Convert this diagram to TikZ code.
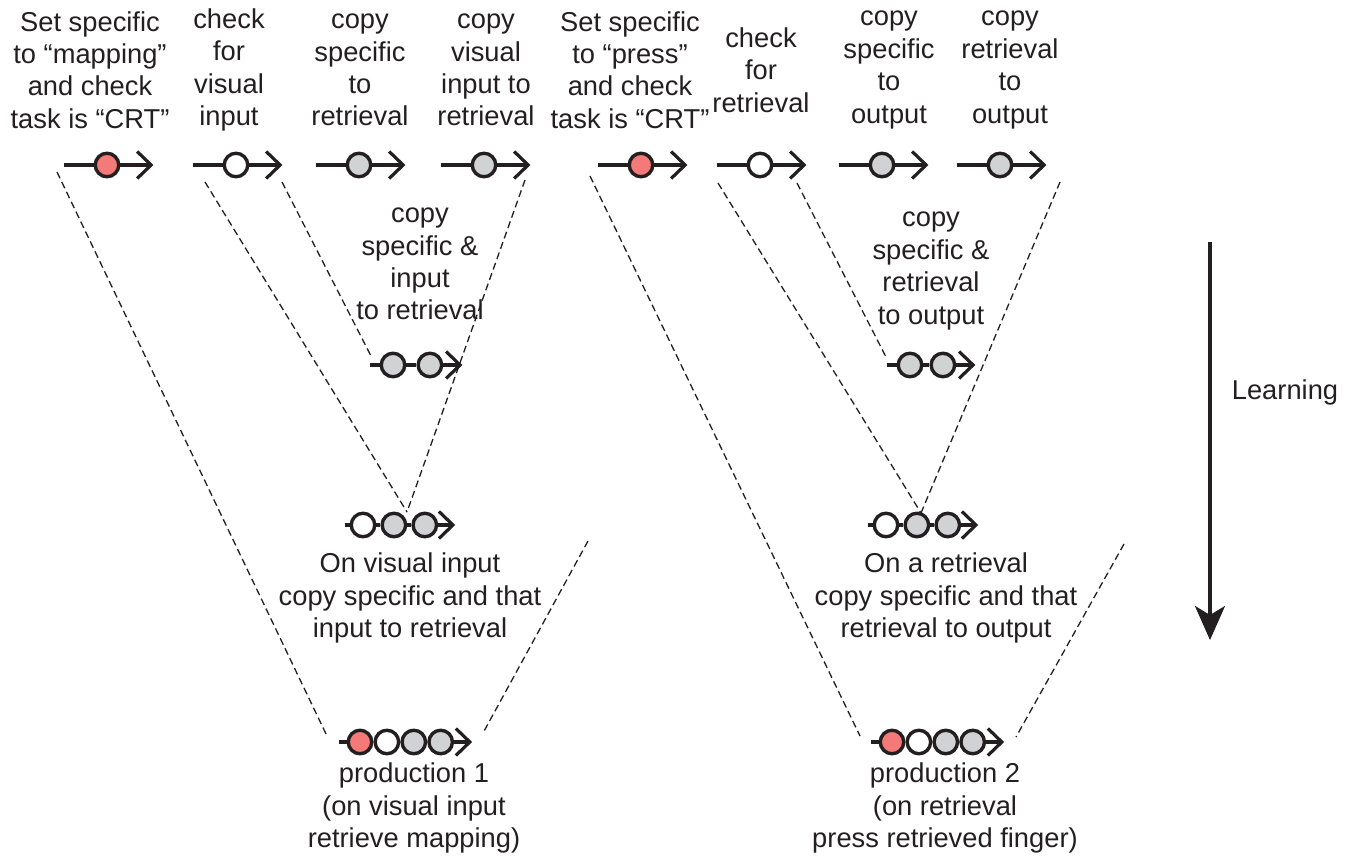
\documentclass[tikz,border=0pt]{standalone}
\usepackage{fontspec}
\setmainfont{Liberation Sans}
\usetikzlibrary{positioning, arrows.meta}
\definecolor{ink}{RGB}{35,31,32}
\definecolor{chunkpink}{RGB}{244,122,122}
\definecolor{chunkgrey}{RGB}{209,210,212}

\begin{document}
\begin{tikzpicture}[
            x=1pt, y=-1pt,
            chunk/.style={
                circle,
                draw=ink,
                line width=3.4pt,
                minimum size=23.5pt,
                inner sep=0pt
            },
            chunkred/.style={chunk, fill=chunkpink},
            chunkwhite/.style={chunk, fill=white},
            chunkgray/.style={chunk, fill=chunkgrey},
            prodline/.style={draw=ink, line width=3.2pt},
            prodarrow/.style={prodline, -{Straight Barb[length=14pt, width=27pt]}},
            txt/.style={align=center, text=ink, inner sep=0pt,
                font=\fontsize{27.3}{32.4}\selectfont},
            trace/.style={draw=ink, line width=1.3pt, dash pattern=on 7pt off 4pt},
            learnarrow/.style={draw=ink, line width=3.2pt,
                -{Stealth[length=34pt, width=30pt, inset=9pt]}}
        ]
        \useasboundingbox (0,0) rectangle (1350,856);

        % Labels of the single productions
        \node[txt] (la1) at (90,70) {Set specific\\to “mapping”\\and check\\task is “CRT”};
        \node[txt] (la2) at (229,70) {check\\for\\visual\\input};
        \node[txt] (la3) at (360,70) {copy\\specific\\to\\retrieval};
        \node[txt] (la4) at (486,70) {copy\\visual\\input to\\retrieval};
        \node[txt] (lb1) at (630,70) {Set specific\\to “press”\\and check\\task is “CRT”};
        \node[txt] (lb2) at (761,70) {check\\for\\retrieval};
        \node[txt] (lb3) at (889,70) {copy\\specific\\to\\output};
        \node[txt] (lb4) at (1010,70) {copy\\retrieval\\to\\output};

        % Single productions
        \node[chunkred] (a1) at (107,165) {};
        \node[chunkwhite] (a2) at (236,165) {};
        \node[chunkgray] (a3) at (359,165) {};
        \node[chunkgray] (a4) at (484,165) {};
        \node[chunkred] (b1) at (641,165) {};
        \node[chunkwhite] (b2) at (760,165) {};
        \node[chunkgray] (b3) at (882,165) {};
        \node[chunkgray] (b4) at (1000,165) {};

        % Two-step productions
        \node[chunkgray] (c1) at (393,365) {};
        \node[chunkgray, right=10pt of c1] (c2) {};
        \node[chunkgray] (d1) at (910,365) {};
        \node[chunkgray, right=6pt of d1] (d2) {};
        \node[txt] (lc) at (420,264) {copy\\specific \&\\input\\to retrieval};
        \node[txt] (ld) at (931,271) {copy\\specific \&\\retrieval\\to output};

        % Three-step productions
        \node[chunkwhite] (e1) at (363,525) {};
        \node[chunkgray, right=4pt of e1] (e2) {};
        \node[chunkgray, right=4pt of e2] (e3) {};
        \node[chunkwhite] (f1) at (886,525) {};
        \node[chunkgray, right=4pt of f1] (f2) {};
        \node[chunkgray, right=4pt of f2] (f3) {};
        \node[txt] (le) at (410,598) {On visual input\\copy specific and that\\input to retrieval};
        \node[txt] (lf) at (946,598) {On a retrieval\\copy specific and that\\retrieval to output};

        % Final productions
        \node[chunkred] (g1) at (360,742) {};
        \node[chunkwhite, right=0pt of g1] (g2) {};
        \node[chunkgray, right=0pt of g2] (g3) {};
        \node[chunkgray, right=0pt of g3] (g4) {};
        \node[chunkred] (h1) at (892,742) {};
        \node[chunkwhite, right=0pt of h1] (h2) {};
        \node[chunkgray, right=0pt of h2] (h3) {};
        \node[chunkgray, right=0pt of h3] (h4) {};
        \node[txt] (lg) at (414,808) {production 1\\(on visual input\\retrieve mapping)};
        \node[txt] (lh) at (945,808) {production 2\\(on retrieval\\press retrieved finger)};

        % Stem ends
        \coordinate[left=30pt of a1] (a1in);  \coordinate[right=33pt of a1] (a1out);
        \coordinate[left=30pt of a2] (a2in);  \coordinate[right=33pt of a2] (a2out);
        \coordinate[left=30pt of a3] (a3in);  \coordinate[right=33pt of a3] (a3out);
        \coordinate[left=30pt of a4] (a4in);  \coordinate[right=33pt of a4] (a4out);
        \coordinate[left=30pt of b1] (b1in);  \coordinate[right=33pt of b1] (b1out);
        \coordinate[left=30pt of b2] (b2in);  \coordinate[right=33pt of b2] (b2out);
        \coordinate[left=30pt of b3] (b3in);  \coordinate[right=33pt of b3] (b3out);
        \coordinate[left=30pt of b4] (b4in);  \coordinate[right=33pt of b4] (b4out);
        \coordinate[left=10pt of c1] (cin);   \coordinate[right=19pt of c2] (cout);
        \coordinate[left=10pt of d1] (din);   \coordinate[right=19pt of d2] (dout);
        \coordinate[left=5pt of e1] (ein);    \coordinate[right=17pt of e3] (eout);
        \coordinate[left=5pt of f1] (fin);    \coordinate[right=17pt of f3] (fout);
        \coordinate[left=8pt of g1] (gin);    \coordinate[right=18pt of g4] (gout);
        \coordinate[left=8pt of h1] (hin);    \coordinate[right=18pt of h4] (hout);

        % Stems
        \draw[prodline] (a1in) -- (a1);  \draw[prodarrow] (a1) -- (a1out);
        \draw[prodline] (a2in) -- (a2);  \draw[prodarrow] (a2) -- (a2out);
        \draw[prodline] (a3in) -- (a3);  \draw[prodarrow] (a3) -- (a3out);
        \draw[prodline] (a4in) -- (a4);  \draw[prodarrow] (a4) -- (a4out);
        \draw[prodline] (b1in) -- (b1);  \draw[prodarrow] (b1) -- (b1out);
        \draw[prodline] (b2in) -- (b2);  \draw[prodarrow] (b2) -- (b2out);
        \draw[prodline] (b3in) -- (b3);  \draw[prodarrow] (b3) -- (b3out);
        \draw[prodline] (b4in) -- (b4);  \draw[prodarrow] (b4) -- (b4out);
        \draw[prodline] (cin) -- (c1) (c1) -- (c2);  \draw[prodarrow] (c2) -- (cout);
        \draw[prodline] (din) -- (d1) (d1) -- (d2);  \draw[prodarrow] (d2) -- (dout);
        \draw[prodline] (ein) -- (e1) (e1) -- (e2) (e2) -- (e3);  \draw[prodarrow] (e3) -- (eout);
        \draw[prodline] (fin) -- (f1) (f1) -- (f2) (f2) -- (f3);  \draw[prodarrow] (f3) -- (fout);
        \draw[prodline] (gin) -- (g1);  \draw[prodarrow] (g4) -- (gout);
        \draw[prodline] (hin) -- (h1);  \draw[prodarrow] (h4) -- (hout);

        % Trace ends
        \coordinate (va1) at (57,172);    \coordinate (vg1) at (327,736);
        \coordinate (va2) at (205,182);   \coordinate (ve) at (407,512);
        \coordinate (va3) at (282,182);   \coordinate (vc) at (371,356);
        \coordinate (va4) at (525,180);
        \coordinate (ve2) at (588,541);   \coordinate (vg2) at (483,733);
        \coordinate (vb1) at (590,176);   \coordinate (vh1) at (860,736);
        \coordinate (vb2) at (718,183);   \coordinate (vf) at (921,513);
        \coordinate (vb3) at (797,183);   \coordinate (vd) at (886,357);
        \coordinate (vb4) at (1060,182);
        \coordinate (vf2) at (1124,544);  \coordinate (vh2) at (1016,737);

        % Traces
        \draw[trace] (va1) -- (vg1);
        \draw[trace] (va2) -- (ve);
        \draw[trace] (va3) -- (vc);
        \draw[trace] (va4) -- (ve);
        \draw[trace] (ve2) -- (vg2);
        \draw[trace] (vb1) -- (vh1);
        \draw[trace] (vb2) -- (vf);
        \draw[trace] (vb3) -- (vd);
        \draw[trace] (vb4) -- (vf);
        \draw[trace] (vf2) -- (vh2);

        % Learning
        \coordinate (ltop) at (1210,242);
        \coordinate (lbot) at (1210,640);
        \draw[learnarrow] (ltop) -- (lbot);
        \node[txt] (learning) at (1285,392) {Learning};

        \end{tikzpicture}
\end{document}
